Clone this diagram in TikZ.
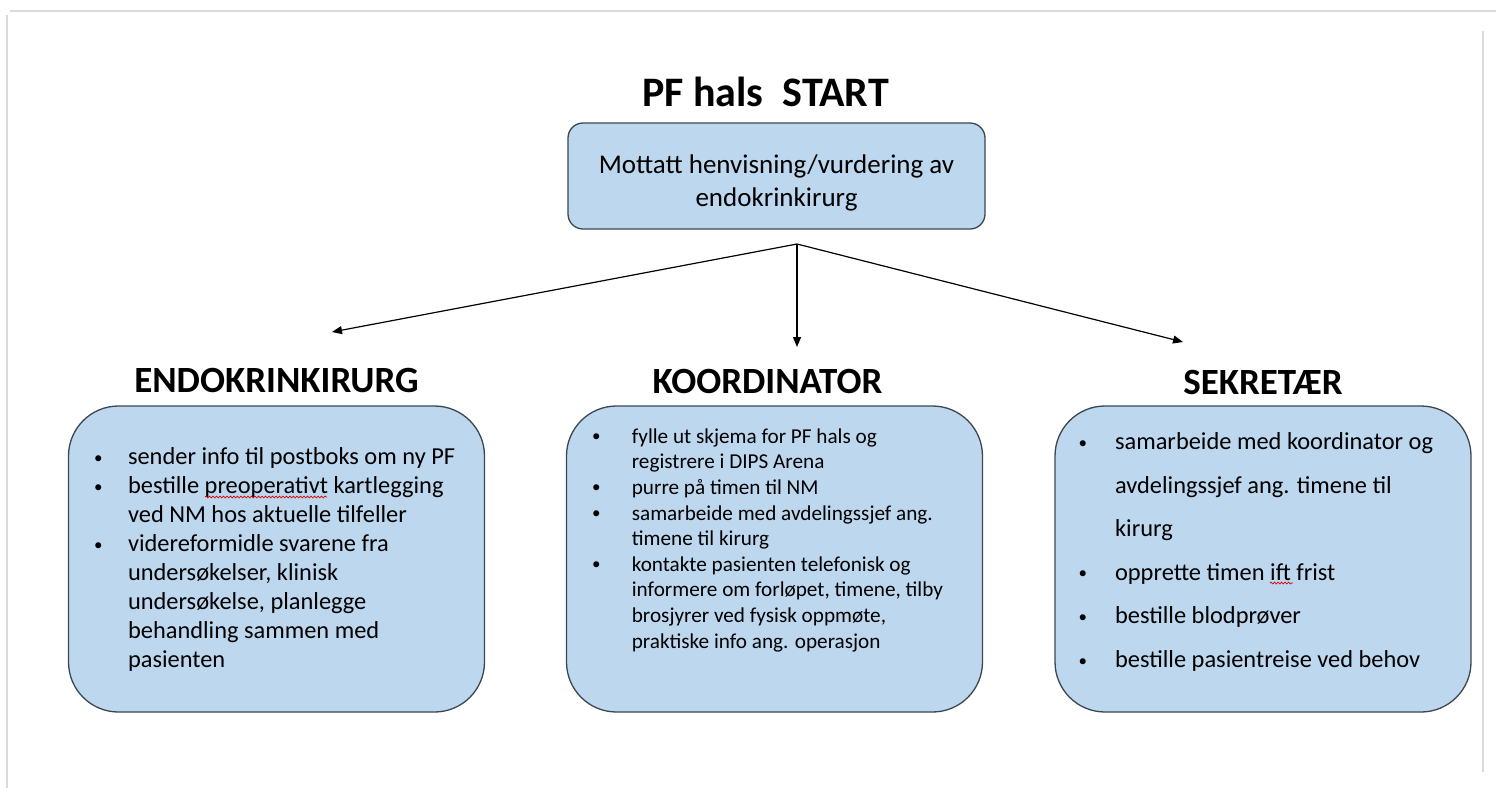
\documentclass[tikz,border=0pt]{standalone}
\usepackage{fontspec}
\setmainfont{Carlito}
\usepackage{xcolor}
\usepackage{tikz}
\usetikzlibrary{arrows.meta,positioning,decorations.pathmorphing}

\definecolor{boxblue}{HTML}{BDD7EE}
\definecolor{boxline}{HTML}{3A4652}
\definecolor{framegray}{HTML}{DADADA}

\newcommand{\pkt}[1][34pt]{\makebox[#1][l]{\raisebox{1.5pt}{\fontsize{17}{17}\selectfont\textbullet}}}
\newcommand{\ind}[1][34pt]{\hspace*{#1}}

\begin{document}
\begin{tikzpicture}[
    x=1pt, y=-1pt,
    frame/.style={draw=framegray, line width=2pt},
    startbox/.style={draw=boxline, line width=1.3pt, fill=boxblue, rounded corners=15pt,
        minimum width=417pt, minimum height=106pt},
    rolebox/.style={draw=boxline, line width=1.3pt, fill=boxblue, rounded corners=50pt,
        minimum width=416pt, minimum height=306pt},
    listtext/.style={anchor=north west, inner sep=0pt, align=left},
    head/.style={inner sep=0pt, font=\bfseries\fontsize{37}{44}\selectfont},
    arr/.style={-{Triangle[length=10pt,width=8pt]}, line width=1.2pt},
    squiggle/.style={draw=red!85!black, line width=0.7pt,
        decorate, decoration={snake, amplitude=0.9pt, segment length=3.5pt}}
]
    \useasboundingbox (0,0) rectangle (1496,788);

    \draw[frame] (10,11) -- (1496,11);
    \draw[frame] (7,15) -- (7,788);
    \draw[frame] (1483,31) -- (1483,772);

    \node[startbox] (start) at (776.5,176) {};
    \node[align=center, font=\fontsize{27}{33}\selectfont]
        at ([yshift=-7pt]start.center) (startTxt) {Mottatt henvisning/vurdering av\\endokrinkirurg};
    \node[inner sep=0pt, font=\bfseries\fontsize{42}{50}\selectfont,
        above=15pt of start, xshift=-11pt] (title) {PF hals\ \ START};

    \node[rolebox] (kirurg) at (276.5,559) {};
    \node[rolebox] (koord) at (774.5,559) {};
    \node[rolebox] (sekr) at (1263,559) {};

    \node[head, above=12pt of kirurg] (kirurgHead) {ENDOKRINKIRURG};
    \node[head, above=11pt of koord, xshift=-7pt] (koordHead) {KOORDINATOR};
    \node[head, above=10pt of sekr] (sekrHead) {SEKRETÆR};

    \node[listtext, font=\fontsize{24.4}{29}\selectfont]
        at ([xshift=26pt, yshift=-42pt]kirurg.north west) (kirurgTxt) {%
        \pkt sender info til postboks om ny PF\\
        \pkt bestille preoperativt kartlegging\\
        \ind ved NM hos aktuelle tilfeller\\
        \pkt videreformidle svarene fra\\
        \ind undersøkelser, klinisk\\
        \ind undersøkelse, planlegge\\
        \ind behandling sammen med\\
        \ind pasienten};

    \node[listtext, font=\fontsize{21.2}{25.6}\selectfont]
        at ([xshift=26pt, yshift=-23pt]koord.north west) (koordTxt) {%
        \pkt[35pt] fylle ut skjema for PF hals og\\
        \ind[35pt] registrere i DIPS Arena\\
        \pkt[35pt] purre på timen til NM\\
        \pkt[35pt] samarbeide med avdelingssjef ang.\\
        \ind[35pt] timene til kirurg\\
        \pkt[35pt] kontakte pasienten telefonisk og\\
        \ind[35pt] informere om forløpet, timene, tilby\\
        \ind[35pt] brosjyrer ved fysisk oppmøte,\\
        \ind[35pt] praktiske info ang. operasjon};

    \node[listtext, font=\fontsize{24.4}{43.6}\selectfont]
        at ([xshift=24pt, yshift=-27pt]sekr.north west) (sekrTxt) {%
        \pkt[31pt] samarbeide med koordinator og\\
        \ind[31pt] avdelingssjef ang. timene til\\
        \ind[31pt] kirurg\\
        \pkt[31pt] opprette timen ift frist\\
        \pkt[31pt] bestille blodprøver\\
        \pkt[31pt] bestille pasientreise ved behov};

    \draw[squiggle] (205,497) -- (327,497);
    \draw[squiggle] (1270,583) -- (1293,583);

    \coordinate (fork) at (797,244);
    \coordinate (tipL) at (332,332);
    \coordinate (tipM) at (797,347);
    \coordinate (tipR) at (1183,342);
    \draw[arr] (fork) -- (tipL);
    \draw[arr] (fork) -- (tipM);
    \draw[arr] (fork) -- (tipR);
\end{tikzpicture}
\end{document}
